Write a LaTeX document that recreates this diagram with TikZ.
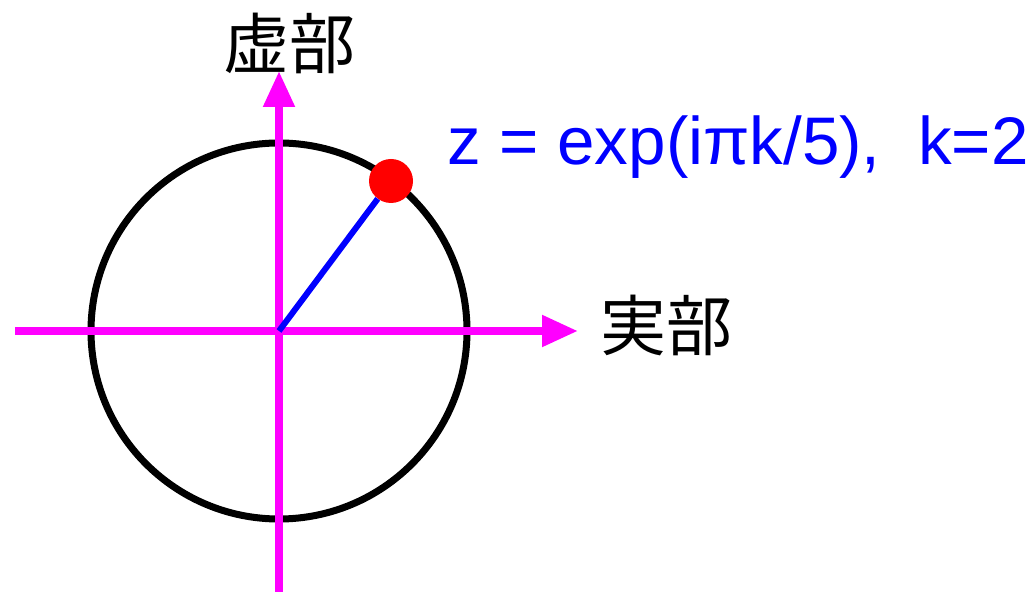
\documentclass[tikz,border=0pt]{standalone}
\usepackage{fontspec}
\setmainfont{Liberation Sans}
\newfontfamily\cjk{Noto Sans CJK JP}
\usepackage{tikz}
\usetikzlibrary{arrows.meta}
\definecolor{axismagenta}{RGB}{255,0,255}

\begin{document}
\begin{tikzpicture}[
    x=1pt, y=1pt,
    axis/.style={draw=axismagenta, line width=8pt, -{Triangle[length=36pt, width=30pt]}},
    unitcircle/.style={draw=black, line width=7pt},
    radius line/.style={draw=blue, line width=6pt},
    point/.style={circle, fill=red, minimum size=44pt, inner sep=0pt},
    axislabel/.style={font=\cjk\fontsize{66}{70}\selectfont, inner sep=0pt},
    formula/.style={font=\fontsize{67.3}{72}\selectfont, text=blue, inner sep=0pt},
]
\useasboundingbox (0,0) rectangle (1032,593);

\coordinate (O) at (279,262);
\coordinate (xstart) at (15,262);
\coordinate (xend) at (578,262);
\coordinate (ystart) at (279,1);
\coordinate (yend) at (279,522);

\draw[unitcircle] (O) circle (188);
\draw[axis] (xstart) -- (xend);
\draw[axis] (ystart) -- (yend);

\node[point] (z) at (391,412) {};
\draw[radius line] (O) -- (z);

\node[axislabel] (re) at (666,268) {実部};
\node[axislabel] (im) at (289,550) {虚部};
\node[formula, anchor=base west] (eq) at (447,428) {z = exp(iπk/5),\ \ k=2};

\end{tikzpicture}
\end{document}
